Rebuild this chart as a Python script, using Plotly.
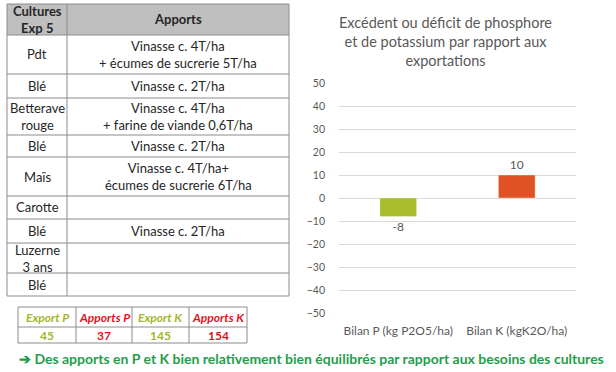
import plotly.graph_objects as go

W, H = 616, 372

# ---------------- data ----------------
cultures = ["Pdt", "Blé", "Betterave<br>rouge", "Blé", "Maïs", "Carotte", "Blé", "Luzerne<br>3 ans", "Blé"]
apports = [
    "Vinasse c. 4T/ha<br>+ écumes de sucrerie 5T/ha",
    "Vinasse c. 2T/ha",
    "Vinasse c. 4T/ha<br>+ farine de viande 0,6T/ha",
    "Vinasse c. 2T/ha",
    "Vinasse c. 4T/ha+<br>écumes de sucrerie 6T/ha",
    "",
    "Vinasse c. 2T/ha",
    "",
    "",
]
table_headers = ["Cultures<br>Exp 5", "Apports"]

small_headers = ["Export P", "Apports P", "Export K", "Apports K"]
small_values = [45, 37, 145, 154]

bilan_categories = ["Bilan P (kg P2O5/ha)", "Bilan K (kgK2O/ha)"]
bilan_values = [-8, 10]

chart_title = "Excédent ou déficit de phosphore<br>et de potassium par rapport aux<br>exportations"
footer = "➔ Des apports en P et K bien relativement bien équilibrés par rapport aux besoins des cultures"

# ---------------- layout constants ----------------
def px(x):
    return x / W

def py(y):
    return 1 - y / H

TEXT = "#262626"
GREY = "#595959"
GREEN_T = "#a3b52a"
RED_T = "#e0121c"
COL_COLORS = [GREEN_T, RED_T, GREEN_T, RED_T]
BAR_COLORS = ["#a9bd2b", "#e15326"]

main_x = [7, 67, 289]
main_y = [4, 35, 74, 98, 135, 157, 196, 219, 243, 273, 296]
small_x = [18, 76, 132, 189, 247]
small_y = [307, 327, 343]

fig = go.Figure()

fig.add_trace(go.Bar(
    x=bilan_categories,
    y=bilan_values,
    marker=dict(color=BAR_COLORS, line=dict(color="rgba(255,255,255,0.35)", width=1)),
    text=[str(v) for v in bilan_values],
    textposition="outside",
    textfont=dict(family="Lato", size=12, color=GREY),
    cliponaxis=False,
    showlegend=False,
    hoverinfo="skip",
))

shapes = []
annotations = []

shapes.append(dict(type="rect", xref="paper", yref="paper",
                   x0=px(main_x[0]), x1=px(main_x[-1]), y0=py(main_y[1]), y1=py(main_y[0]),
                   fillcolor="#bfbfbf", line=dict(width=0), layer="below"))
for yy in main_y:
    shapes.append(dict(type="line", xref="paper", yref="paper",
                       x0=px(main_x[0]), x1=px(main_x[-1]), y0=py(yy), y1=py(yy),
                       line=dict(color="#8c8c8c", width=1)))
for xx in main_x:
    shapes.append(dict(type="line", xref="paper", yref="paper",
                       x0=px(xx), x1=px(xx), y0=py(main_y[-1]), y1=py(main_y[0]),
                       line=dict(color="#8c8c8c", width=1)))

for i, htxt in enumerate(table_headers):
    annotations.append(dict(xref="paper", yref="paper",
                            x=px((main_x[i] + main_x[i + 1]) / 2), y=py((main_y[0] + main_y[1]) / 2),
                            text="<b>" + htxt + "</b>", showarrow=False,
                            xanchor="center", yanchor="middle",
                            font=dict(family="Lato", size=13, color=TEXT)))
for r, (c, a) in enumerate(zip(cultures, apports)):
    yc = py((main_y[r + 1] + main_y[r + 2]) / 2)
    annotations.append(dict(xref="paper", yref="paper", x=px((main_x[0] + main_x[1]) / 2), y=yc,
                            text=c, showarrow=False, xanchor="center", yanchor="middle",
                            font=dict(family="Lato", size=13, color=TEXT)))
    if a:
        annotations.append(dict(xref="paper", yref="paper", x=px((main_x[1] + main_x[2]) / 2), y=yc,
                                text=a, showarrow=False, xanchor="center", yanchor="middle",
                                font=dict(family="Lato", size=13, color=TEXT)))

for yy in small_y:
    shapes.append(dict(type="line", xref="paper", yref="paper",
                       x0=px(small_x[0]), x1=px(small_x[-1]), y0=py(yy), y1=py(yy),
                       line=dict(color="#8c8c8c", width=1)))
for xx in small_x:
    shapes.append(dict(type="line", xref="paper", yref="paper",
                       x0=px(xx), x1=px(xx), y0=py(small_y[-1]), y1=py(small_y[0]),
                       line=dict(color="#8c8c8c", width=1)))
for i, (h, v) in enumerate(zip(small_headers, small_values)):
    xc = px((small_x[i] + small_x[i + 1]) / 2)
    annotations.append(dict(xref="paper", yref="paper", x=xc, y=py((small_y[0] + small_y[1]) / 2),
                            text="<b><i>" + h + "</i></b>", showarrow=False,
                            xanchor="center", yanchor="middle",
                            font=dict(family="Lato", size=12, color=COL_COLORS[i])))
    annotations.append(dict(xref="paper", yref="paper", x=xc, y=py((small_y[1] + small_y[2]) / 2),
                            text="<b>" + str(v) + "</b>", showarrow=False,
                            xanchor="center", yanchor="middle",
                            font=dict(family="Lato", size=12, color=COL_COLORS[i])))

annotations.append(dict(xref="paper", yref="paper", x=px(445), y=py(41),
                        text=chart_title, showarrow=False, xanchor="center", yanchor="middle",
                        font=dict(family="Lato", size=14.5, color=GREY)))

annotations.append(dict(xref="paper", yref="paper", x=px(17), y=py(358),
                        text="<b>" + footer + "</b>", showarrow=False, xanchor="left", yanchor="middle",
                        font=dict(family="Lato", size=14, color="#1f9e4b")))

fig.update_layout(
    template="none",
    width=W, height=H,
    margin=dict(l=0, r=0, t=0, b=0, pad=0, autoexpand=False),
    paper_bgcolor="white", plot_bgcolor="white",
    bargap=0.69,
    shapes=shapes,
    annotations=annotations,
    xaxis=dict(domain=[px(339), px(576)], showgrid=False, showline=False, zeroline=False,
               automargin=False, ticks="", ticklabelstandoff=9,
               tickfont=dict(family="Lato", size=12, color=GREY), fixedrange=True),
    yaxis=dict(domain=[py(313), py(83)], range=[-50, 50], dtick=10, tick0=0,
               automargin=False,
               showgrid=True, gridcolor="#d9d9d9", gridwidth=1,
               zeroline=True, zerolinecolor="#d9d9d9", zerolinewidth=1,
               showline=False, ticks="", ticklabelstandoff=13,
               tickfont=dict(family="Lato", size=10.5, color=GREY), fixedrange=True),
)

fig.write_html("out.html", config={"displayModeBar": False},
               post_script="document.body.style.margin='0px';document.body.style.overflow='hidden';")
